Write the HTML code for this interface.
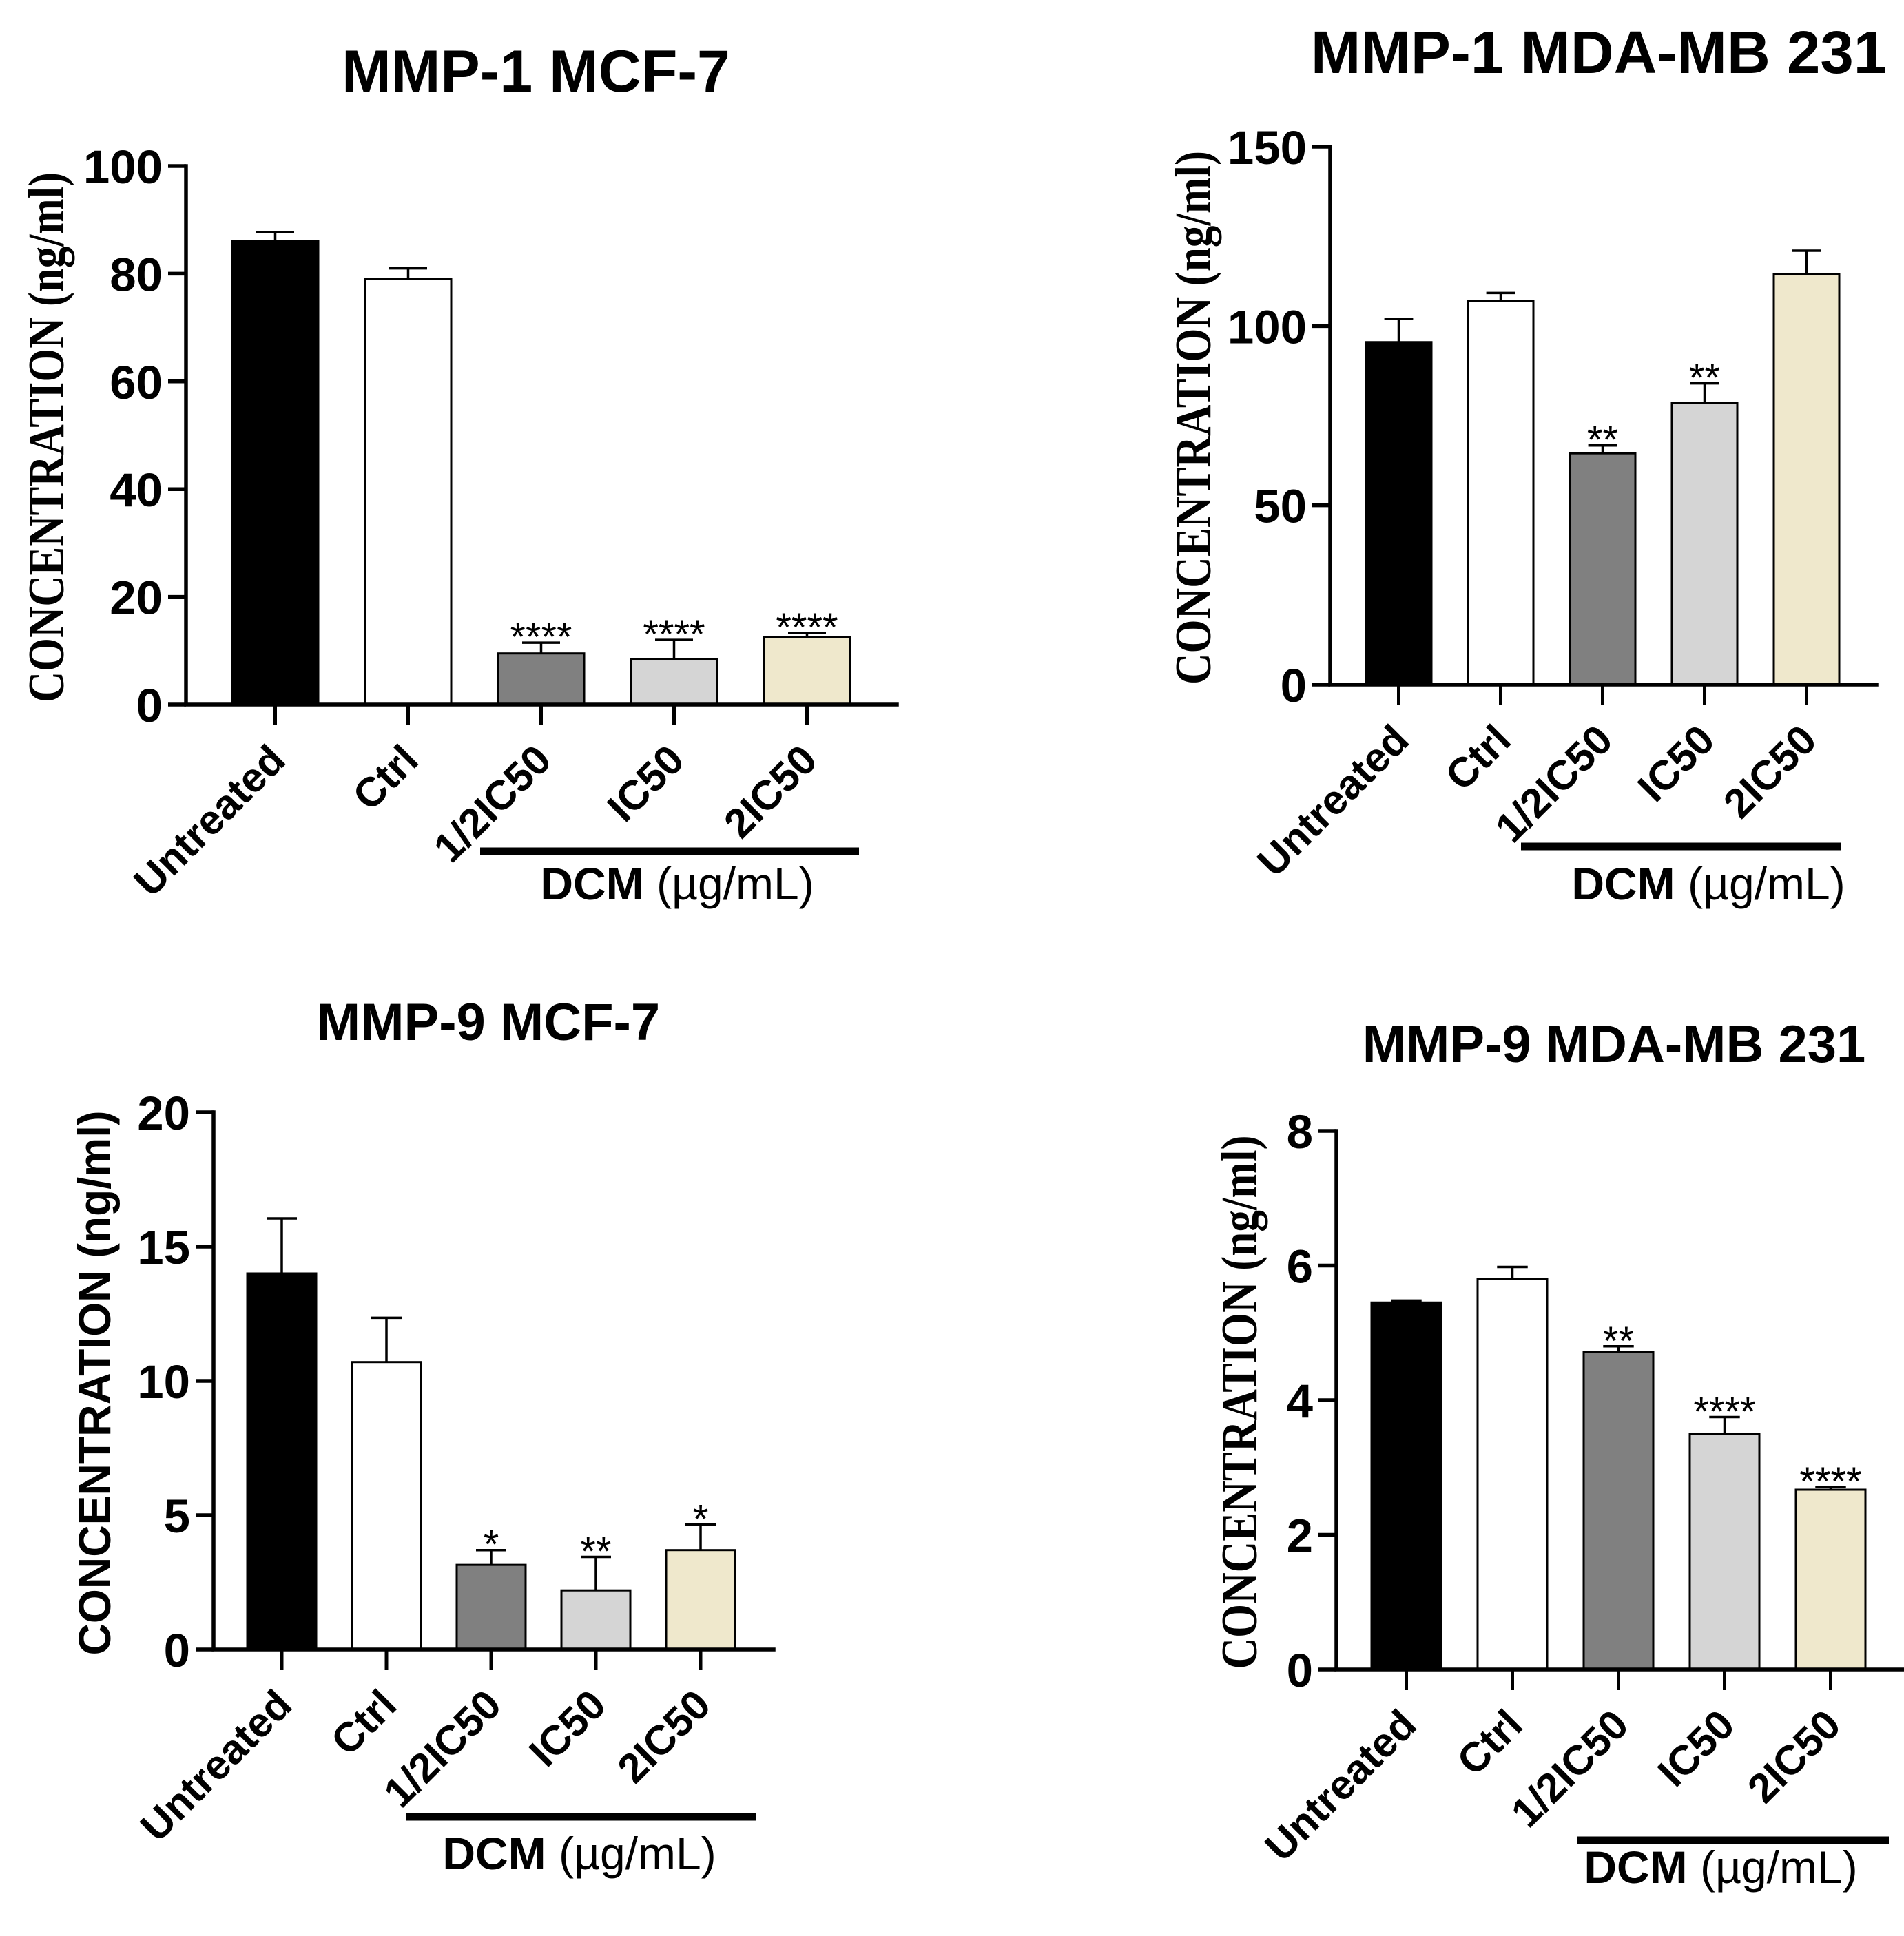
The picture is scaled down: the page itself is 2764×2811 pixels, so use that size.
<!DOCTYPE html>
<html><head><meta charset="utf-8">
<style>
html,body{margin:0;padding:0;background:#fff;}
svg{display:block;}
</style></head>
<body>
<svg id="fig" width="2764" height="2811" viewBox="0 0 2764 2811" xmlns="http://www.w3.org/2000/svg"></svg>
<script>
const categories = ["Untreated","Ctrl","1/2IC50","IC50","2IC50"];
const colors = ["#000000","#ffffff","#808080","#d5d5d5","#efe8cc"];
const p1Values = [86, 79, 9.5, 8.5, 12.5];
const p1Errors = [1.7, 2, 2, 3.5, 0.8];
const p1Stars = ["", "", "****", "****", "****"];
const p1Ticks = [0, 20, 40, 60, 80, 100];
const p2Values = [95.5, 107, 64.5, 78.5, 114.5];
const p2Errors = [6.5, 2.2, 2.2, 5.5, 6.5];
const p2Stars = ["", "", "**", "**", ""];
const p2Ticks = [0, 50, 100, 150];
const p3Values = [14, 10.7, 3.15, 2.2, 3.7];
const p3Errors = [2.05, 1.65, 0.55, 1.25, 0.95];
const p3Stars = ["", "", "*", "**", "*"];
const p3Ticks = [0, 5, 10, 15, 20];
const p4Values = [5.45, 5.8, 4.72, 3.5, 2.67];
const p4Errors = [0.03, 0.18, 0.08, 0.25, 0.04];
const p4Stars = ["", "", "**", "****", "****"];
const p4Ticks = [0, 2, 4, 6, 8];

const NS = "http://www.w3.org/2000/svg";
const svg = document.getElementById("fig");
function mk(tag, attrs, parent, txt){
  const e = document.createElementNS(NS, tag);
  for (const k in attrs) e.setAttribute(k, attrs[k]);
  if (txt !== undefined) e.textContent = txt;
  (parent || svg).appendChild(e);
  return e;
}

const panels = [
  {id:"mmp1-mcf7", title:"MMP-1 MCF-7", tx:778, ty:133, tf:86, ax:270, top:241, bot:1023, xend:1302, max:100,
   bar0:337, step:193, bw:125, vals:p1Values, errs:p1Errors, stars:p1Stars, ticks:p1Ticks,
   ytx:66, ylen:770, yserif:true, dcm:[697,1247,1236], dcmT:[983,1306]},
  {id:"mmp1-mda", title:"MMP-1 MDA-MB 231", tx:2321, ty:106, tf:87, ax:1931, top:213, bot:994, xend:2724, max:150,
   bar0:1983, step:148, bw:95, vals:p2Values, errs:p2Errors, stars:p2Stars, ticks:p2Ticks,
   ytx:1731, ylen:775, yserif:true, dcm:[2208,2673,1229], dcmT:[2480,1306]},
  {id:"mmp9-mcf7", title:"MMP-9 MCF-7", tx:709, ty:1510, tf:76, ax:310, top:1615, bot:2395, xend:1123, max:20,
   bar0:359, step:152, bw:100, vals:p3Values, errs:p3Errors, stars:p3Stars, ticks:p3Ticks,
   ytx:134, ylen:791, yserif:false, dcm:[589,1098,2638], dcmT:[841,2714]},
  {id:"mmp9-mda", title:"MMP-9 MDA-MB 231", tx:2343, ty:1542, tf:76, ax:1940, top:1642, bot:2424, xend:2764, max:8,
   bar0:1991, step:154, bw:101, vals:p4Values, errs:p4Errors, stars:p4Stars, ticks:p4Ticks,
   ytx:1798, ylen:775, yserif:true, dcm:[2290,2742,2672], dcmT:[2498,2734]}
];

panels.forEach(p => {
  const g = mk("g", {});
  
  
  const y = v => p.bot - (v / p.max) * (p.bot - p.top);
  const bx = i => p.bar0 + i * p.step;

  const t = mk("text", {x:p.tx, y:p.ty, "text-anchor":"middle", "font-family":"Liberation Sans, sans-serif", "font-weight":"bold", "font-size":p.tf}, g, p.title);
  
  

  p.vals.forEach((v, i) => {
    const x = bx(i);
    const r = mk("rect", {x:x, y:y(v), width:p.bw, height:p.bot - y(v), fill:colors[i], stroke:"#000", "stroke-width":3}, g);
    
    
    const cx = x + p.bw / 2, ye = y(v + p.errs[i]), cw = p.bw * 0.22;
    const eb = mk("path", {d:`M${cx},${y(v)} V${ye} M${cx - cw},${ye} H${cx + cw}`, stroke:"#000", "stroke-width":3.5, fill:"none"}, g);
    
    
    if (p.stars[i]) {
      const s = mk("text", {x:cx, y:ye + 12, "text-anchor":"middle", "font-family":"Liberation Sans, sans-serif", "font-size":58}, g, p.stars[i]);
      
      
    }
    const tk = mk("line", {x1:cx, x2:cx, y1:p.bot, y2:p.bot + 30, stroke:"#000", "stroke-width":5}, g);
    
    
    const lx = cx + 18, ly = p.bot + 84;
    const lb = mk("text", {x:lx, y:ly, "text-anchor":"end", transform:`rotate(-45 ${lx} ${ly})`, "font-family":"Liberation Sans, sans-serif", "font-weight":"bold", "font-size":60}, g, categories[i]);
    
    
  });

  const axl = mk("path", {d:`M${p.ax},${p.top} V${p.bot} H${p.xend}`, stroke:"#000", "stroke-width":5.5, fill:"none", "stroke-linecap":"square"}, g);
  
  
  p.ticks.forEach(v => {
    const ty = mk("line", {x1:p.ax - 26, x2:p.ax, y1:y(v), y2:y(v), stroke:"#000", "stroke-width":5.5}, g);
    
    
    const tl = mk("text", {x:p.ax - 34, y:y(v) + 25, "text-anchor":"end", "font-family":"Liberation Sans, sans-serif", "font-weight":"bold", "font-size":69}, g, String(v));
    
    
  });

  const ymid = (p.top + p.bot) / 2 + 3;
  const yt = mk("text", {x:p.ytx, y:ymid, "text-anchor":"middle", transform:`rotate(-90 ${p.ytx} ${ymid})`,
    "font-family": p.yserif ? "Liberation Serif, serif" : "Liberation Sans, sans-serif", "font-weight":"bold",
    "font-size": p.yserif ? 74 : 66, textLength:p.ylen, lengthAdjust:"spacingAndGlyphs", dy:26}, g, "CONCENTRATION (ng/ml)");
  
  

  const db = mk("line", {x1:p.dcm[0], x2:p.dcm[1], y1:p.dcm[2], y2:p.dcm[2], stroke:"#000", "stroke-width":11}, g);
  
  
  const dt = mk("text", {x:p.dcmT[0], y:p.dcmT[1], "text-anchor":"middle", "font-family":"Liberation Sans, sans-serif", "font-size":66}, g);
  
  
  mk("tspan", {"font-weight":"bold"}, dt, "DCM");
  mk("tspan", {}, dt, " (\u00b5g/mL)");
});
</script>
</body></html>
